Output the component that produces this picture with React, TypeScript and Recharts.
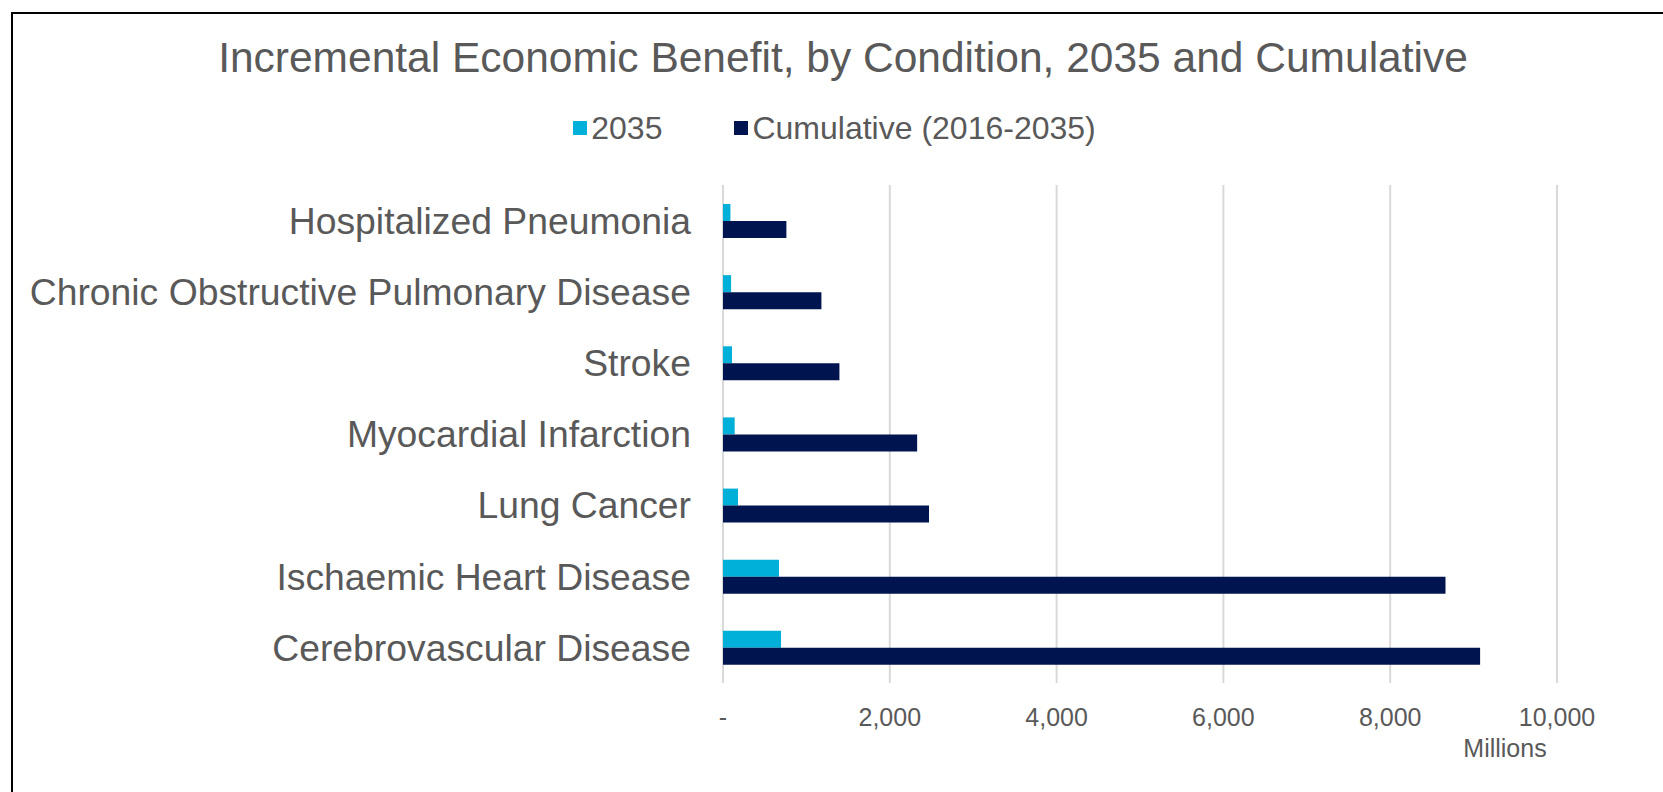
import React from 'react';
import { BarChart, Bar, XAxis, YAxis, CartesianGrid } from 'recharts';

const conditions = [
  'Hospitalized Pneumonia',
  'Chronic Obstructive Pulmonary Disease',
  'Stroke',
  'Myocardial Infarction',
  'Lung Cancer',
  'Ischaemic Heart Disease',
  'Cerebrovascular Disease',
];
// benefit in millions
const benefit2035 = [89, 97, 108, 140, 180, 672, 696];
const benefitCumulative = [760, 1180, 1396, 2328, 2470, 8663, 9078];
const xTicks = [0, 2000, 4000, 6000, 8000, 10000];

const seriesNames = ['2035', 'Cumulative (2016-2035)'];
const seriesColors = ['#00B0D8', '#00154F'];

const FONT = '"Liberation Sans", Arial, sans-serif';
const TEXT = '#595959';

const rows = conditions.map((name, i) => ({
  name,
  y2035: benefit2035[i],
  cumulative: benefitCumulative[i],
}));

const fmtTick = (v: number) => (v === 0 ? '-' : v.toLocaleString('en-US'));

const LegendRow = () => (
  <div
    style={{
      position: 'absolute',
      left: 0,
      top: 108,
      width: 1663,
      height: 40,
      display: 'flex',
      justifyContent: 'center',
      alignItems: 'center',
      fontFamily: FONT,
      fontSize: 32,
      color: TEXT,
      paddingLeft: 6,
      boxSizing: 'border-box',
    }}
  >
    {seriesNames.map((s, i) => (
      <span key={s} style={{ display: 'flex', alignItems: 'center', marginRight: i === 0 ? 72 : 0 }}>
        <span style={{ width: 14, height: 14, background: seriesColors[i], marginRight: 4, display: 'inline-block' }} />
        {s}
      </span>
    ))}
  </div>
);

const App: React.FC = () => {
  return (
    <div style={{ position: 'absolute', left: 0, top: 0, width: 1663, height: 792, overflow: 'hidden', background: '#fff' }}>
      {/* frame: only top and left edges fall inside the page */}
      <div
        style={{
          position: 'absolute',
          left: 11,
          top: 12,
          width: 1700,
          height: 850,
          borderTop: '2px solid #000',
          borderLeft: '2px solid #000',
        }}
      />
      <div
        style={{
          position: 'absolute',
          left: 0,
          top: 33,
          width: 1686,
          textAlign: 'center',
          fontFamily: FONT,
          fontSize: 42.5,
          color: TEXT,
          lineHeight: '50px',
        }}
      >
        Incremental Economic Benefit, by Condition, 2035 and Cumulative
      </div>
      <LegendRow />
      <BarChart
        width={1663}
        height={792}
        data={rows}
        layout="vertical"
        barGap={0}
        barSize={17}
        margin={{ top: 185, right: 106, bottom: 49, left: 0 }}
        style={{ position: 'absolute', left: 0, top: 0 }}
      >
        <CartesianGrid horizontal={false} stroke="#D9D9D9" strokeWidth={2} />
        <XAxis
          type="number"
          domain={[0, 10000]}
          ticks={xTicks}
          tickFormatter={fmtTick}
          axisLine={false}
          tickLine={false}
          tickSize={0}
          tickMargin={25}
          height={60}
          tick={{ fill: TEXT, fontSize: 25, fontFamily: FONT }}
        />
        <YAxis
          type="category"
          dataKey="name"
          width={723}
          axisLine={false}
          tickLine={false}
          tickSize={0}
          tickMargin={32}
          interval={0}
          tick={{ fill: TEXT, fontSize: 37.3, fontFamily: FONT }}
        />
        <Bar dataKey="y2035" name={seriesNames[0]} fill={seriesColors[0]} isAnimationActive={false} />
        <Bar dataKey="cumulative" name={seriesNames[1]} fill={seriesColors[1]} isAnimationActive={false} />
      </BarChart>
      <div
        style={{
          position: 'absolute',
          left: 1455,
          top: 733,
          width: 100,
          textAlign: 'center',
          fontFamily: FONT,
          fontSize: 25,
          color: TEXT,
          lineHeight: '30px',
        }}
      >
        Millions
      </div>
    </div>
  );
};

export default App;
